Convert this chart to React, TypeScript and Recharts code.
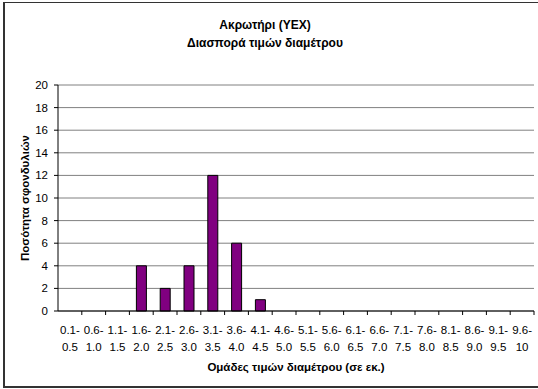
import React from 'react';
import { BarChart, Bar, XAxis, YAxis, CartesianGrid, Label } from 'recharts';

const rangeStarts = ['0.1', '0.6', '1.1', '1.6', '2.1', '2.6', '3.1', '3.6', '4.1', '4.6', '5.1', '5.6', '6.1', '6.6', '7.1', '7.6', '8.1', '8.6', '9.1', '9.6'];
const rangeEnds = ['0.5', '1.0', '1.5', '2.0', '2.5', '3.0', '3.5', '4.0', '4.5', '5.0', '5.5', '6.0', '6.5', '7.0', '7.5', '8.0', '8.5', '9.0', '9.5', '10'];
const counts = [0, 0, 0, 4, 2, 4, 12, 6, 1, 0, 0, 0, 0, 0, 0, 0, 0, 0, 0, 0];
const yTicks = [0, 2, 4, 6, 8, 10, 12, 14, 16, 18, 20];
const titleLines = ['Ακρωτήρι (YEX)', 'Διασπορά τιμών διαμέτρου'];
const xTitle = 'Ομάδες τιμών διαμέτρου (σε εκ.)';
const yTitle = 'Ποσότητα σφονδυλιών';

const data = rangeStarts.map((s, i) => ({ group: `${s}- ${rangeEnds[i]}`, count: counts[i] }));

const FONT = '"Liberation Sans", Arial, sans-serif';

const XTick = (props: any) => {
  const { x, y, payload, width, visibleTicksCount } = props;
  const n = visibleTicksCount || data.length;
  const band = (Number(width) || 476) / n;
  const [a, b] = String(payload.value).split(' ');
  return (
    <g>
      <line x1={x + band / 2} x2={x + band / 2} y1={y} y2={y + 4} stroke="#000" />
      <text x={x} y={y + 23} textAnchor="middle" fontSize={11.5} fontFamily={FONT} fill="#000">{a}</text>
      <text x={x} y={y + 40} textAnchor="middle" fontSize={11.5} fontFamily={FONT} fill="#000">{b}</text>
    </g>
  );
};

const YTitle = (props: any) => {
  const vb = props.viewBox || { x: 0, y: 85, width: 58, height: 226 };
  const cx = vb.x + 25;
  const cy = vb.y + vb.height / 2;
  return (
    <text x={cx} y={cy} transform={`rotate(-90 ${cx} ${cy})`} textAnchor="middle" dominantBaseline="central"
      fontSize={11.5} fontWeight="bold" fontFamily={FONT} fill="#000">{yTitle}</text>
  );
};

const XTitle = (props: any) => {
  const vb = props.viewBox || { x: 58, y: 311, width: 476, height: 60 };
  return (
    <text x={vb.x + vb.width / 2} y={vb.y + 60} textAnchor="middle"
      fontSize={11.5} fontWeight="bold" fontFamily={FONT} fill="#000">{xTitle}</text>
  );
};

export default function App() {
  return (
    <div style={{ position: 'absolute', left: 0, top: 0, width: 538, height: 389, overflow: 'hidden', background: '#fff' }}>
      <div style={{ position: 'absolute', left: 3, top: 2, width: 600, height: 383, borderLeft: '2px solid #333', borderTop: '1px solid #333', borderBottom: '2px solid #333' }} />
      <div style={{ position: 'absolute', left: 0, top: 0 }}>
        <BarChart width={538} height={389} data={data} margin={{ top: 85, right: 4, bottom: 18, left: 0 }} barSize={10}>
          <CartesianGrid horizontal vertical={false} stroke="#808080" yAxisId="left" />
          <XAxis dataKey="group" tick={<XTick />} tickLine={false} tickSize={0} tickMargin={0} height={60}
            axisLine={{ stroke: '#000' }} interval={0}>
            <Label content={<XTitle />} />
          </XAxis>
          <YAxis yAxisId="left" domain={[0, 20]} ticks={yTicks} width={58} interval={0}
            tick={{ fontSize: 11.5, fontFamily: FONT, fill: '#000' }} tickSize={4} tickMargin={6}
            tickLine={{ stroke: '#000' }} axisLine={{ stroke: '#000' }}>
            <Label content={<YTitle />} />
          </YAxis>
          <YAxis yAxisId="right" orientation="right" domain={[0, 20]} width={0} tick={false} tickLine={false}
            axisLine={{ stroke: '#808080' }} />
          <Bar yAxisId="left" dataKey="count" fill="#800080" stroke="#000" strokeWidth={1} isAnimationActive={false} />
        </BarChart>
      </div>
      <div style={{ position: 'absolute', left: 0, top: 16, width: 530, textAlign: 'center', fontFamily: FONT, fontWeight: 'bold', fontSize: 12, lineHeight: '18px', color: '#000' }}>
        {titleLines.map((t) => (<div key={t}>{t}</div>))}
      </div>
    </div>
  );
}
